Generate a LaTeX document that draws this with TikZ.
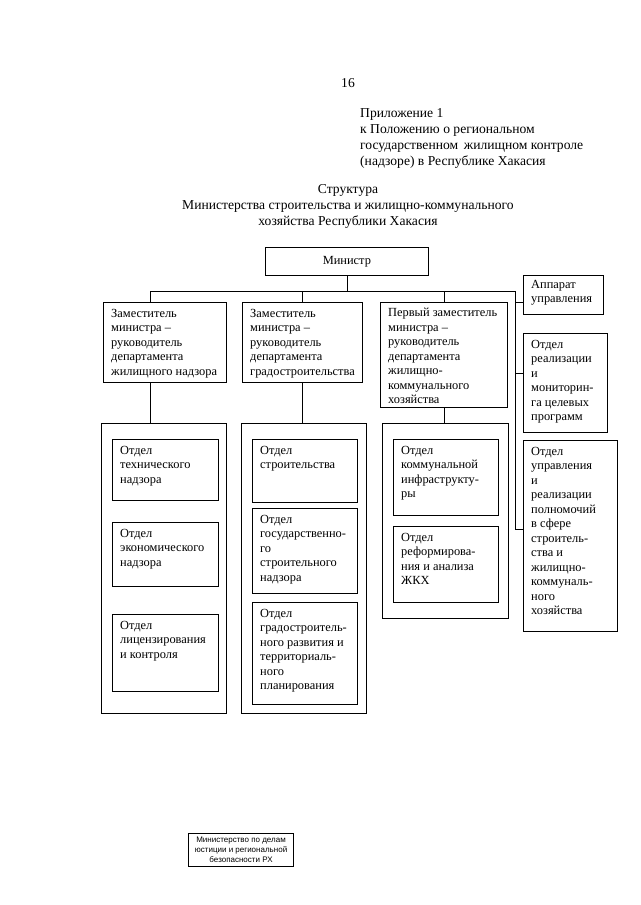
\documentclass[tikz,border=0pt]{standalone}
\usepackage{fontspec}
\setmainfont{Liberation Serif}
\newfontfamily\stampfont{Liberation Sans}
\usepackage{tikz}

\tikzset{
	frame/.style={draw, line width=0.8pt, inner sep=0pt, anchor=north west},
	txt/.style={anchor=north west, align=left, inner sep=0pt, xshift=8pt, yshift=-7pt,
		font=\fontsize{12.4}{14.5}\selectfont},
	link/.style={line width=0.8pt},
}

\begin{document}
\begin{tikzpicture}[x=1pt, y=-1pt, every node/.style={font=\fontsize{13.6}{16}\selectfont}]
	\fill[white] (0,0) rectangle (640,905);
	\useasboundingbox (0,0) rectangle (640,905);
	% header
	\node (page) at (348,83) {16};
	\node[anchor=north west, align=left, inner sep=0pt] (appx) at (360,108)
		{Приложение 1\\ к Положению о региональном\\ государственном\, жилищном контроле\\ (надзоре) в Республике Хакасия};
	\node[anchor=north, align=center, inner sep=0pt] (title) at (348,184)
		{Структура\\ Министерства строительства и жилищно-коммунального\\ хозяйства Республики Хакасия};
	% minister and deputies
	\node[frame, minimum width=163, minimum height=28, font=\fontsize{12.4}{14.5}\selectfont] (min) at (265,247) {Министр};
	\node[frame, minimum width=123, minimum height=80] (dep1) at (103,302) {};
	\node[txt] at (dep1.north west) {Заместитель\\ министра –\\ руководитель\\ департамента\\ жилищного надзора};
	\node[frame, minimum width=120, minimum height=80] (dep2) at (242,302) {};
	\node[txt] at (dep2.north west) {Заместитель\\ министра –\\ руководитель\\ департамента\\ градостроительства};
	\node[frame, minimum width=127, minimum height=105] (dep3) at (380,302) {};
	\node[txt, yshift=1pt] at (dep3.north west) {Первый заместитель\\ министра –\\ руководитель\\ департамента\\ жилищно-\\ коммунального\\ хозяйства};
	% right column
	\node[frame, minimum width=80, minimum height=39] (app) at (523,275) {};
	\node[txt, yshift=2pt] at (app.north west) {Аппарат\\ управления};
	\node[frame, minimum width=84, minimum height=99] (mon) at (523,333) {};
	\node[txt] at (mon.north west) {Отдел\\ реализации\\ и\\ мониторин-\\ га целевых\\ программ};
	\node[frame, minimum width=94, minimum height=191] (ctl) at (523,440) {};
	\node[txt] at (ctl.north west) {Отдел\\ управления\\ и\\ реализации\\ полномочий\\ в сфере\\ строитель-\\ ства и\\ жилищно-\\ коммуналь-\\ ного\\ хозяйства};
	% departments
	\node[frame, minimum width=125, minimum height=290] (c1) at (101,423) {};
	\node[frame, minimum width=125, minimum height=290] (c2) at (241,423) {};
	\node[frame, minimum width=126, minimum height=195] (c3) at (382,423) {};
	\node[frame, minimum width=106, minimum height=61] (o11) at (112,439) {};
	\node[txt] at (o11.north west) {Отдел\\ технического\\ надзора};
	\node[frame, minimum width=106, minimum height=64] (o12) at (112,522) {};
	\node[txt] at (o12.north west) {Отдел\\ экономического\\ надзора};
	\node[frame, minimum width=106, minimum height=77] (o13) at (112,614) {};
	\node[txt] at (o13.north west) {Отдел\\ лицензирования\\ и контроля};
	\node[frame, minimum width=105, minimum height=63] (o21) at (252,439) {};
	\node[txt] at (o21.north west) {Отдел\\ строительства};
	\node[frame, minimum width=105, minimum height=85] (o22) at (252,508) {};
	\node[txt] at (o22.north west) {Отдел\\ государственно-\\ го\\ строительного\\ надзора};
	\node[frame, minimum width=105, minimum height=102] (o23) at (252,602) {};
	\node[txt] at (o23.north west) {Отдел\\ градостроитель-\\ ного развития и\\ территориаль-\\ ного\\ планирования};
	\node[frame, minimum width=105, minimum height=76] (o31) at (393,439) {};
	\node[txt] at (o31.north west) {Отдел\\ коммунальной\\ инфраструкту-\\ ры};
	\node[frame, minimum width=105, minimum height=76] (o32) at (393,526) {};
	\node[txt] at (o32.north west) {Отдел\\ реформирова-\\ ния и анализа\\ ЖКХ};
	% connectors
	\coordinate (busL) at (150,291);
	\coordinate (busR) at (515,291);
	\coordinate (jA) at (515,302);
	\coordinate (jM) at (515,373);
	\coordinate (jC) at (515,529);
	\draw[link] (min.south) -- (min.south |- busL);
	\draw[link] (busL) -- (busR) -- (jC) -- (jC -| ctl.west);
	\draw[link] (jA) -- (jA -| app.west);
	\draw[link] (jM) -- (jM -| mon.west);
	\draw[link] (busL) -- (busL |- dep1.north);
	\draw[link] (dep2.north |- busL) -- (dep2.north);
	\draw[link] (dep3.north |- busL) -- (dep3.north);
	\draw[link] (busL |- dep1.south) -- (busL |- c1.north);
	\draw[link] (dep2.south) -- (c2.north -| dep2.south);
	\draw[link] (dep3.south) -- (c3.north -| dep3.south);
	% stamp
	\node[frame, line width=1.1pt, minimum width=105, minimum height=33, align=center,
		font=\stampfont\fontsize{8}{9.8}\selectfont] (stamp) at (188,833)
		{Министерство по делам\\ юстиции и региональной\\ безопасности РХ};
\end{tikzpicture}
\end{document}
